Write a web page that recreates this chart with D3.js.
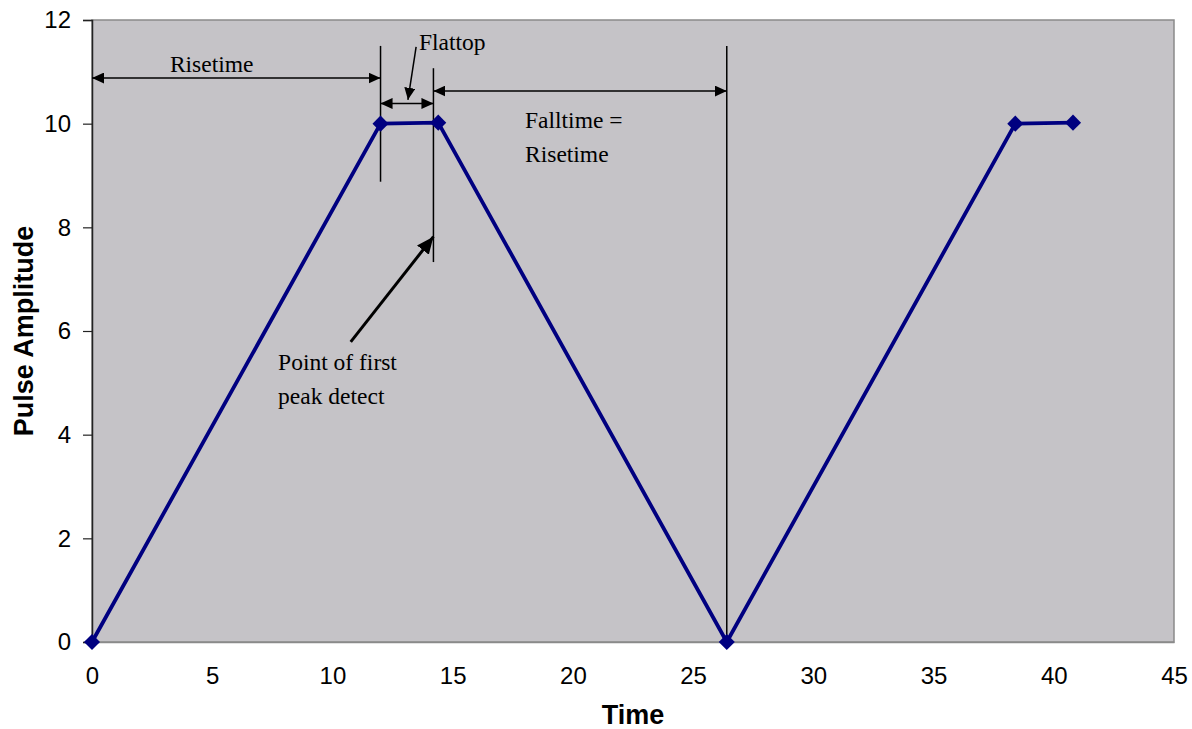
<!DOCTYPE html>
<html>
<head>
<meta charset="utf-8">
<script src="https://cdn.jsdelivr.net/npm/d3@7"></script>
<style>
  html, body { margin: 0; padding: 0; background: #ffffff; }
  svg { display: block; }
</style>
</head>
<body>
<svg id="chart" width="1192" height="729"></svg>
<script>
// ---- data ----
const time = [0, 12, 14.4, 26.4, 38.4, 40.8];
const amplitude = [0, 10, 10.02, 0, 10, 10.02];
const xTicks = [0, 5, 10, 15, 20, 25, 30, 35, 40, 45];
const yTicks = [0, 2, 4, 6, 8, 10, 12];
const xTitle = "Time";
const yTitle = "Pulse Amplitude";

// annotation geometry in data units
const vLines = [
  { x: 12, y1: 11.5, y2: 8.88 },
  { x: 14.2, y1: 11.07, y2: 7.33 },
  { x: 26.4, y1: 11.5, y2: 0 }
];
const dimArrows = [
  { x1: 0, x2: 12, y: 10.88 },
  { x1: 12, x2: 14.2, y: 10.39 },
  { x1: 14.2, x2: 26.4, y: 10.63 }
];
const pointerArrows = [
  { x1: 13.48, y1: 11.48, x2: 13.14, y2: 10.46, w: 1.5, head: "sm" },
  { x1: 10.76, y1: 5.79, x2: 14.2, y2: 7.82, w: 3, head: "lg" }
];
const labels = [
  { x: 3.24, y: 11.0, lines: ["Risetime"] },
  { x: 13.6, y: 11.42, lines: ["Flattop"] },
  { x: 18.01, y: 9.91, lines: ["Falltime =", "Risetime"] },
  { x: 7.74, y: 5.25, lines: ["Point of first", "peak detect"] }
];

// ---- layout ----
const svg = d3.select("#chart");
const mLeft = 92, mRight = 1174, mTop = 20, mBottom = 642;
const x = d3.scaleLinear().domain([0, 45]).range([mLeft, mRight]);
const y = d3.scaleLinear().domain([0, 12]).range([mBottom, mTop]);

// markers
const defs = svg.append("defs");
function marker(id, len, wid, orientStart) {
  defs.append("marker")
    .attr("id", id)
    .attr("markerUnits", "userSpaceOnUse")
    .attr("viewBox", `0 ${-wid/2} ${len} ${wid}`)
    .attr("refX", len).attr("refY", 0)
    .attr("markerWidth", len).attr("markerHeight", wid)
    .attr("orient", orientStart ? "auto-start-reverse" : "auto")
    .append("path")
    .attr("d", `M0,${-wid/2}L${len},0L0,${wid/2}Z`)
    .attr("fill", "#000");
}
marker("sm", 12, 11, true);
marker("lg", 17, 15, false);

// plot area
svg.append("rect")
  .attr("x", mLeft).attr("y", mTop)
  .attr("width", mRight - mLeft).attr("height", mBottom - mTop)
  .attr("fill", "#c5c3c7")
  .attr("stroke", "#8a8a8a").attr("stroke-width", 1.5);

// y axis
const yAxis = d3.axisLeft(y).tickValues(yTicks).tickSize(9).tickPadding(12).tickFormat(d3.format("d"));
const gy = svg.append("g").attr("transform", `translate(${mLeft},0)`).call(yAxis);
gy.select(".domain").attr("stroke", "#222").attr("stroke-width", 1.5);
gy.selectAll(".tick line").attr("stroke", "#222").attr("stroke-width", 1.2);
gy.selectAll(".tick text")
  .attr("font-family", "Liberation Sans, Arial, sans-serif")
  .attr("font-size", 24).attr("fill", "#000");

// x axis (labels only)
const xAxis = d3.axisBottom(x).tickValues(xTicks).tickSize(0).tickPadding(30).tickFormat(d3.format("d"));
const gx = svg.append("g").attr("transform", `translate(0,${mBottom})`).call(xAxis);
gx.select(".domain").attr("stroke", "#8a8a8a").attr("stroke-width", 1.5);
gx.selectAll(".tick text")
  .attr("font-family", "Liberation Sans, Arial, sans-serif")
  .attr("font-size", 24).attr("fill", "#000")
  .attr("dy", "0.5em");

// axis titles
svg.append("text")
  .attr("x", (mLeft + mRight) / 2).attr("y", 724)
  .attr("text-anchor", "middle")
  .attr("font-family", "Liberation Sans, Arial, sans-serif")
  .attr("font-weight", "bold").attr("font-size", 27)
  .text(xTitle);
svg.append("text")
  .attr("transform", `translate(33,${(mTop + mBottom) / 2}) rotate(-90)`)
  .attr("text-anchor", "middle")
  .attr("font-family", "Liberation Sans, Arial, sans-serif")
  .attr("font-weight", "bold").attr("font-size", 27)
  .text(yTitle);

// annotation vertical lines
svg.append("g").selectAll("line").data(vLines).join("line")
  .attr("x1", d => x(d.x)).attr("x2", d => x(d.x))
  .attr("y1", d => y(d.y1)).attr("y2", d => y(d.y2))
  .attr("stroke", "#000").attr("stroke-width", 1.5);

// dimension arrows
svg.append("g").selectAll("line").data(dimArrows).join("line")
  .attr("x1", d => x(d.x1)).attr("x2", d => x(d.x2))
  .attr("y1", d => y(d.y)).attr("y2", d => y(d.y))
  .attr("stroke", "#000").attr("stroke-width", 1.5)
  .attr("marker-start", "url(#sm)").attr("marker-end", "url(#sm)");

// pointer arrows
svg.append("g").selectAll("line").data(pointerArrows).join("line")
  .attr("x1", d => x(d.x1)).attr("x2", d => x(d.x2))
  .attr("y1", d => y(d.y1)).attr("y2", d => y(d.y2))
  .attr("stroke", "#000").attr("stroke-width", d => d.w)
  .attr("marker-end", d => `url(#${d.head})`);

// data line
const line = d3.line().x((d, i) => x(time[i])).y(d => y(d));
svg.append("path")
  .datum(amplitude)
  .attr("d", line)
  .attr("fill", "none")
  .attr("stroke", "#000080").attr("stroke-width", 3.8)
  .attr("stroke-linejoin", "round");

// markers (diamonds)
const diamond = d3.symbol().type(d3.symbolDiamond2).size(165);
svg.append("g").selectAll("path").data(amplitude).join("path")
  .attr("transform", (d, i) => `translate(${x(time[i])},${y(d)})`)
  .attr("d", diamond)
  .attr("fill", "#000080");

// labels
labels.forEach(l => {
  const t = svg.append("text")
    .attr("x", x(l.x)).attr("y", y(l.y))
    .attr("font-family", "Liberation Serif, Times New Roman, serif")
    .attr("font-size", 23.5).attr("fill", "#000");
  l.lines.forEach((s, i) => {
    t.append("tspan").attr("x", x(l.x)).attr("dy", i === 0 ? 0 : 34).text(s);
  });
});
</script>
</body>
</html>
